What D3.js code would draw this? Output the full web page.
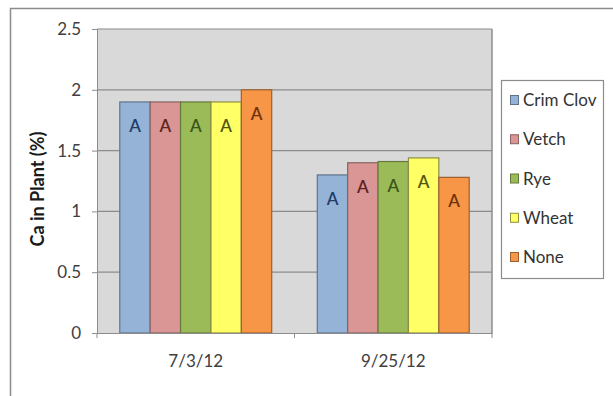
<!DOCTYPE html>
<html>
<head>
<meta charset="utf-8">
<script src="https://cdn.jsdelivr.net/npm/d3@7"></script>
<style>
  html, body { margin: 0; padding: 0; background: #fff; }
  svg { display: block; font-family: Lato, "Open Sans", sans-serif; }
</style>
</head>
<body>
<svg id="chart" width="613" height="396"></svg>
<script>
// Calcium concentration in plant tissue by cover crop treatment and sampling date
const dates = ["7/3/12", "9/25/12"];
const treatments = ["Crim Clov", "Vetch", "Rye", "Wheat", "None"];
const caValues = [
  [1.9, 1.9, 1.9, 1.9, 2.0],
  [1.3, 1.4, 1.41, 1.44, 1.28]
];
const letters = [
  ["A", "A", "A", "A", "A"],
  ["A", "A", "A", "A", "A"]
];
const yTicks = [0, 0.5, 1, 1.5, 2, 2.5];

const fills = ["#95b3d7", "#d99694", "#9bbb59", "#ffff66", "#f79646"];
const strokes = ["#5f7489", "#8a6160", "#647a3a", "#8f8f42", "#9c6030"];
const letterColors = ["#1f3d66", "#5e2422", "#3b5518", "#55550e", "#6e330c"];

const svg = d3.select("#chart");

// outer chart frame
svg.append("rect")
  .attr("x", 10.5).attr("y", 8.5)
  .attr("width", 640).attr("height", 420)
  .attr("fill", "#fff").attr("stroke", "#8c8c8c").attr("stroke-width", 1.5);

const plot = { left: 97, right: 492, top: 29, bottom: 333 };

const x0 = d3.scaleBand().domain(dates).range([plot.left, plot.right]).paddingInner(0).paddingOuter(0);
const x1 = d3.scaleBand().domain(treatments).range([0, x0.bandwidth()]).paddingInner(0).paddingOuter(0.75);
const y = d3.scaleLinear().domain([0, 2.5]).range([plot.bottom, plot.top]);

// plot area background
svg.append("rect")
  .attr("x", plot.left).attr("y", plot.top)
  .attr("width", plot.right - plot.left).attr("height", plot.bottom - plot.top)
  .attr("fill", "#d9d9d9");

// gridlines
svg.append("g").selectAll("line").data(yTicks.filter(d => d > 0)).join("line")
  .attr("x1", plot.left).attr("x2", plot.right)
  .attr("y1", d => y(d)).attr("y2", d => y(d))
  .attr("stroke", "#8c8c8c").attr("stroke-width", 1.2);

// right edge of plot area
svg.append("line")
  .attr("x1", plot.right).attr("x2", plot.right)
  .attr("y1", plot.top).attr("y2", plot.bottom)
  .attr("stroke", "#8c8c8c").attr("stroke-width", 1.5);

// bars
const groups = svg.append("g").selectAll("g").data(dates).join("g")
  .attr("transform", d => `translate(${x0(d)},0)`);

groups.selectAll("rect").data((d, i) => treatments.map((t, j) => ({ t, j, v: caValues[i][j] }))).join("rect")
  .attr("x", d => x1(d.t))
  .attr("y", d => y(d.v))
  .attr("width", x1.bandwidth())
  .attr("height", d => y(0) - y(d.v))
  .attr("fill", d => fills[d.j])
  .attr("stroke", d => strokes[d.j])
  .attr("stroke-width", 1.2);

groups.selectAll("text").data((d, i) => treatments.map((t, j) => ({ t, j, v: caValues[i][j], s: letters[i][j] }))).join("text")
  .attr("x", d => x1(d.t) + x1.bandwidth() / 2)
  .attr("y", d => y(d.v) + 30)
  .attr("text-anchor", "middle")
  .attr("font-size", 17)
  .attr("font-weight", 600)
  .attr("fill", d => letterColors[d.j])
  .text(d => d.s);

// y axis
const yAxis = svg.append("g")
  .attr("transform", `translate(${plot.left},0)`)
  .call(d3.axisLeft(y).tickValues(yTicks).tickFormat(d3.format("")).tickSize(5).tickPadding(11));
yAxis.select(".domain").attr("stroke", "#8c8c8c");
yAxis.selectAll(".tick line").attr("stroke", "#8c8c8c");
yAxis.selectAll(".tick text").attr("font-size", 17).attr("fill", "#404040").attr("font-family", "Lato, sans-serif");

// x axis
const xAxis = svg.append("g")
  .attr("transform", `translate(0,${plot.bottom})`)
  .call(d3.axisBottom(x0).tickSize(0).tickPadding(22));
xAxis.select(".domain").attr("stroke", "#8c8c8c").attr("stroke-width", 1.2);
xAxis.selectAll(".tick text").attr("font-size", 17).attr("fill", "#404040").attr("font-family", "Lato, sans-serif");

// category separators on x axis
svg.append("g").selectAll("line")
  .data([plot.left, x0(dates[1]), plot.right]).join("line")
  .attr("x1", d => d).attr("x2", d => d)
  .attr("y1", plot.bottom).attr("y2", plot.bottom + 5)
  .attr("stroke", "#8c8c8c");

// y axis title
svg.append("text")
  .attr("transform", `translate(44,189) rotate(-90)`)
  .attr("text-anchor", "middle")
  .attr("font-size", 18)
  .attr("font-weight", "bold")
  .attr("fill", "#1a1a1a")
  .text("Ca in Plant (%)");

// legend
const legend = svg.append("g");
legend.append("rect")
  .attr("x", 501.5).attr("y", 80.5).attr("width", 102).attr("height", 198)
  .attr("fill", "#fff").attr("stroke", "#8c8c8c").attr("stroke-width", 1.2);

const ly = d3.scalePoint().domain(treatments).range([100, 257]);
const items = legend.selectAll("g").data(treatments).join("g")
  .attr("transform", d => `translate(510,${ly(d)})`);
items.append("rect")
  .attr("x", 0.5).attr("y", -4.5).attr("width", 8).attr("height", 9)
  .attr("fill", (d, i) => fills[i]).attr("stroke", (d, i) => strokes[i]);
items.append("text")
  .attr("x", 13).attr("y", 6)
  .attr("font-size", 17).attr("fill", "#333")
  .text(d => d);
</script>
</body>
</html>
